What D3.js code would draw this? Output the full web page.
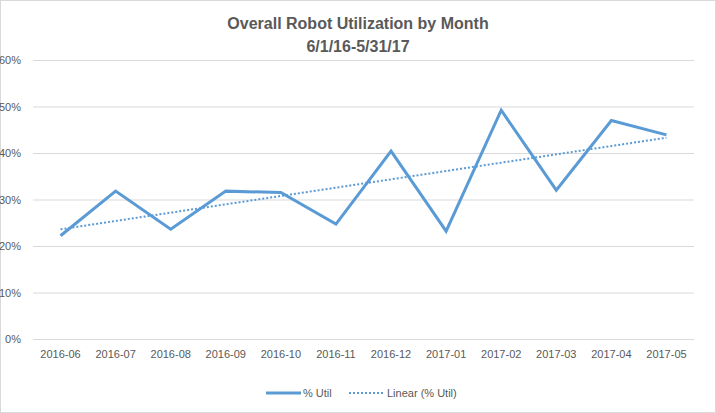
<!DOCTYPE html>
<html>
<head>
<meta charset="utf-8">
<script src="https://cdn.jsdelivr.net/npm/d3@7"></script>
<style>
  body { margin: 0; background: #fff; }
  text { font-family: "Liberation Sans", Arial, sans-serif; fill: #595959; }
</style>
</head>
<body>
<svg id="chart" width="716" height="413"></svg>
<script>
// data
const months = ["2016-06", "2016-07", "2016-08", "2016-09", "2016-10", "2016-11",
                "2016-12", "2017-01", "2017-02", "2017-03", "2017-04", "2017-05"];
const util = [22.2, 31.8, 23.6, 31.8, 31.5, 24.7, 40.4, 23.2, 49.2, 32.0, 47.0, 43.9];
const yTicks = [0, 10, 20, 30, 40, 50, 60];
const titleLines = ["Overall Robot Utilization by Month", "6/1/16-5/31/17"];
const legendNames = ["% Util", "Linear (% Util)"];

const width = 716, height = 413;
const margin = { top: 60, right: 22, bottom: 74, left: 33 };
const blue = "#5b9bd5";

const svg = d3.select("#chart");

// outer chart border
svg.append("rect")
  .attr("x", 0.5).attr("y", 0.5)
  .attr("width", width - 1).attr("height", height - 1)
  .attr("fill", "#fff").attr("stroke", "#d9d9d9");

const x = d3.scaleBand()
  .domain(months)
  .range([margin.left, width - margin.right]);

const y = d3.scaleLinear()
  .domain([0, 60])
  .range([height - margin.bottom, margin.top]);

// gridlines + y labels
const yAxis = (g) =>
  g.attr("transform", `translate(${margin.left},0)`)
    .call(d3.axisLeft(y).tickValues(yTicks).tickFormat(d => d + "%")
      .tickSize(-(width - margin.left - margin.right)).tickPadding(12))
    .call(g => g.select(".domain").remove())
    .call(g => g.selectAll("line").attr("stroke", "#d9d9d9"))
    .call(g => g.selectAll("text").attr("font-size", 11).attr("fill", "#595959"));
svg.append("g").call(yAxis);

// category labels
const xAxis = (g) =>
  g.attr("transform", `translate(0,${height - margin.bottom})`)
    .call(d3.axisBottom(x).tickSize(0).tickPadding(11))
    .call(g => g.select(".domain").remove())
    .call(g => g.selectAll("text").attr("font-size", 11).attr("fill", "#595959"));
svg.append("g").call(xAxis);

// linear trendline (least squares, like Excel's)
const idx = d3.range(util.length);
const mx = d3.mean(idx), my = d3.mean(util);
const slope = d3.sum(idx, i => (i - mx) * (util[i] - my)) / d3.sum(idx, i => (i - mx) ** 2);
const icpt = my - slope * mx;
const trend = idx.map(i => icpt + slope * i);

const line = d3.line()
  .x((d, i) => x(months[i]) + x.bandwidth() / 2)
  .y(d => y(d));

svg.append("path")
  .datum(trend)
  .attr("d", line)
  .attr("fill", "none")
  .attr("stroke", blue)
  .attr("stroke-width", 2)
  .attr("stroke-dasharray", "2,2");

svg.append("path")
  .datum(util)
  .attr("d", line)
  .attr("fill", "none")
  .attr("stroke", blue)
  .attr("stroke-width", 3)
  .attr("stroke-linejoin", "miter");

// title
svg.append("g").selectAll("text")
  .data(titleLines)
  .join("text")
  .attr("x", width / 2)
  .attr("y", (d, i) => 29 + i * 23)
  .attr("text-anchor", "middle")
  .attr("font-size", 16)
  .attr("font-weight", "bold")
  .text(d => d);

// legend
const lg = svg.append("g");
lg.append("line")
  .attr("x1", 266).attr("x2", 301).attr("y1", 393).attr("y2", 393)
  .attr("stroke", blue).attr("stroke-width", 3);
lg.append("text").attr("x", 303).attr("y", 397).attr("font-size", 11).text(legendNames[0]);
lg.append("line")
  .attr("x1", 349).attr("x2", 383).attr("y1", 393).attr("y2", 393)
  .attr("stroke", blue).attr("stroke-width", 2).attr("stroke-dasharray", "2,2");
lg.append("text").attr("x", 387).attr("y", 397).attr("font-size", 11).text(legendNames[1]);
</script>
</body>
</html>
